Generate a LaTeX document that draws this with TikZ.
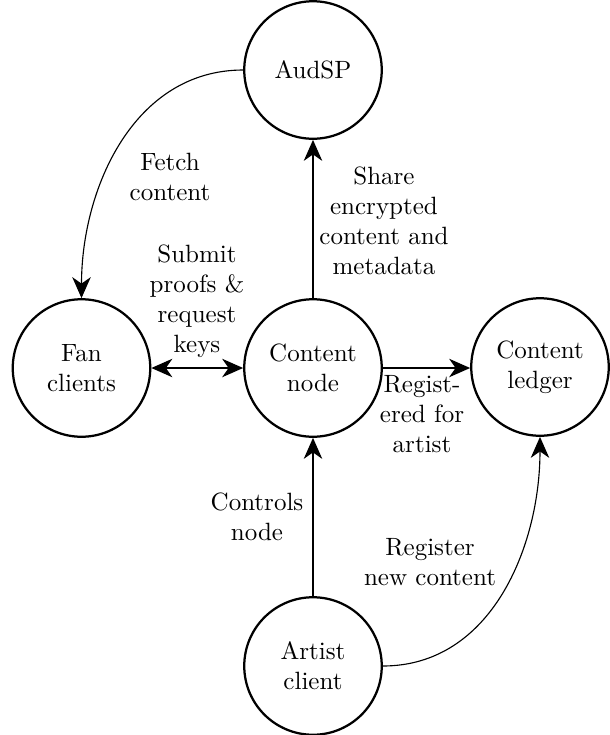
\documentclass[tikz,border=0pt]{standalone}
\usetikzlibrary{arrows.meta}
\begin{document}
\begin{tikzpicture}[x=0.4pt,y=-0.4pt,
  entity/.style={draw,circle,line width=0.9pt,minimum size=55pt,align=center,inner sep=1pt},
  lbl/.style={align=center,inner sep=0pt},
  conn/.style={line width=0.45pt,-{Stealth[length=8.4pt,width=7.4pt,inset=2.6pt]}},
  biconn/.style={line width=0.45pt,{Stealth[length=8.4pt,width=7.4pt,inset=2.6pt]}-{Stealth[length=8.4pt,width=7.4pt,inset=2.6pt]}}]
\useasboundingbox (0,0) rectangle (610,735);
\node[entity] (aud) at (313,70) {AudSP};
\node[entity] (fan) at (81.5,368) {Fan\\clients};
\node[entity] (cn) at (313,368) {Content\\node};
\node[entity] (led) at (540,367) {Content\\ledger};
\node[entity] (art) at (313,666) {Artist\\client};

\draw[conn] (aud.west) to[out=180,in=90] (fan.north);
\draw[conn] (cn.north) -- (aud.south);
\draw[biconn] (fan.east) -- (cn.west);
\draw[conn] (cn.east) -- (led.west |- cn.east);
\draw[conn] (art.north) -- (cn.south);
\draw[conn] (art.east) to[out=0,in=-90] (led.south);

\node[lbl] (l1) at (170,177) {Fetch\\content};
\node[lbl] (l2) at (384,221) {Share\\encrypted\\content and\\metadata};
\node[lbl] (l3) at (197,301) {Submit\\proofs \&\\request\\keys};
\node[lbl] (l4) at (422,414) {Regist-\\ered for\\artist};
\node[lbl] (l5) at (257,517) {Controls\\node};
\node[lbl] (l6) at (430,562) {Register\\new content};
\end{tikzpicture}
\end{document}
